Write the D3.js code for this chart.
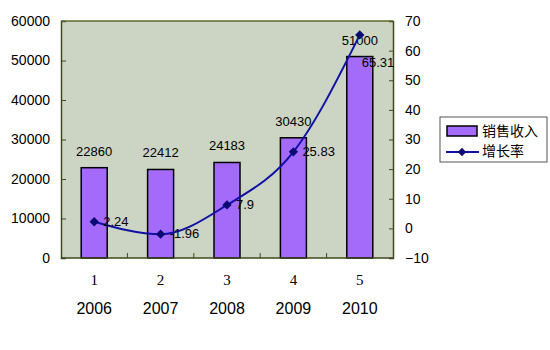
<!DOCTYPE html>
<html><head><meta charset="utf-8">
<script src="https://cdn.jsdelivr.net/npm/d3@7"></script>
<style>body{margin:0;background:#fff}</style>
</head><body>
<svg id="c" width="550" height="350"></svg>
<script>
const categories = ["1","2","3","4","5"];
const years = ["2006","2007","2008","2009","2010"];
const sales = [22860, 22412, 24183, 30430, 51000];
const growth = [2.24, -1.96, 7.9, 25.83, 65.31];
const leftTicks = [0,10000,20000,30000,40000,50000,60000];
const rightTicks = [-10,0,10,20,30,40,50,60,70];
const seriesNames = ["销售收入","增长率"];

const svg = d3.select("#c");
const L = 61, R = 393, T = 21, B = 258;
const xb = d3.scaleBand().domain(categories).range([L, R]);
const yL = d3.scaleLinear().domain([0, 60000]).range([B, T]);
const yR = d3.scaleLinear().domain([-10, 70]).range([B, T]);
const cx = i => xb(categories[i]) + xb.bandwidth()/2;

svg.append("rect").attr("x", L).attr("y", T).attr("width", R - L).attr("height", B - T)
  .attr("fill", "#ccd4c3");

// bars
svg.selectAll(".bar").data(sales).enter().append("rect")
  .attr("x", (d,i) => cx(i) - 13)
  .attr("width", 26)
  .attr("y", d => yL(d)).attr("height", d => B - yL(d))
  .attr("fill", "#a46bfa").attr("stroke", "#000").attr("stroke-width", 1.5);

// axes
const font = "'Liberation Sans', Arial, sans-serif";
const gl = svg.append("g").attr("transform", `translate(${L},0)`)
  .call(d3.axisLeft(yL).tickValues(leftTicks).tickSize(-5).tickPadding(11).tickFormat(d3.format("d")));
const gr = svg.append("g").attr("transform", `translate(${R},0)`)
  .call(d3.axisRight(yR).tickValues(rightTicks).tickSize(-4).tickPadding(12).tickFormat(d3.format("d")));
[gl, gr].forEach(g => {
  g.selectAll("path").attr("stroke", "#3d4a1c").attr("stroke-width", 1.5);
  g.selectAll("line").attr("stroke", "#3d4a1c");
  g.selectAll("text").attr("font-family", font).attr("font-size", 14).attr("fill", "#000");
});
svg.append("line").attr("x1", L).attr("x2", R).attr("y1", B).attr("y2", B).attr("stroke", "#3d4a1c").attr("stroke-width", 1.5);
svg.append("line").attr("x1", L).attr("x2", R).attr("y1", T).attr("y2", T).attr("stroke", "#5b6b2c").attr("stroke-width", 1.5);
// inward ticks at category boundaries
svg.selectAll(".bt").data(categories.slice(1)).enter().append("line")
  .attr("x1", d => xb(d)).attr("x2", d => xb(d)).attr("y1", B).attr("y2", B - 5)
  .attr("stroke", "#3d4a1c");

// category labels
svg.selectAll(".cl").data(categories).enter().append("text")
  .attr("x", (d,i) => cx(i)).attr("y", 285)
  .attr("text-anchor", "middle").attr("font-family", "'Liberation Serif', 'Times New Roman', serif")
  .attr("font-size", 15).text(d => d);
svg.selectAll(".yl").data(years).enter().append("text")
  .attr("x", (d,i) => cx(i)).attr("y", 314)
  .attr("text-anchor", "middle").attr("font-family", font)
  .attr("font-size", 16).text(d => d);

// bar labels
svg.selectAll(".bl").data(sales).enter().append("text")
  .attr("x", (d,i) => cx(i))
  .attr("y", d => yL(d) - 12)
  .attr("text-anchor", "middle").attr("font-family", font).attr("font-size", 13)
  .text(d => d);

// line
const line = d3.line().x((d,i) => cx(i)).y(d => yR(d)).curve(d3.curveMonotoneX);
svg.append("path").datum(growth).attr("d", line).attr("fill", "none")
  .attr("stroke", "#1010a8").attr("stroke-width", 2);
svg.selectAll(".pt").data(growth).enter().append("path")
  .attr("transform", (d,i) => `translate(${cx(i)},${yR(d)})`)
  .attr("d", d3.symbol(d3.symbolDiamond2, 55)).attr("fill", "#0a0a70");
svg.selectAll(".gl").data(growth).enter().append("text")
  .attr("x", (d,i) => cx(i) + (i === 4 ? 2 : 9))
  .attr("y", (d,i) => yR(d) + (i === 4 ? 32 : 4))
  .attr("font-family", font).attr("font-size", 13)
  .text(d => d);

// legend
const lg = svg.append("g");
lg.append("rect").attr("x", 440).attr("y", 117).attr("width", 107).attr("height", 45)
  .attr("fill", "#fff").attr("stroke", "#555").attr("stroke-width", 1);
lg.append("rect").attr("x", 447).attr("y", 126).attr("width", 30).attr("height", 10)
  .attr("fill", "#a46bfa").attr("stroke", "#000").attr("stroke-width", 1.5);
lg.append("line").attr("x1", 446).attr("x2", 479).attr("y1", 152).attr("y2", 152)
  .attr("stroke", "#1010a8").attr("stroke-width", 2);
lg.append("path").attr("transform", "translate(462,152)").attr("d", d3.symbol(d3.symbolDiamond2, 45)).attr("fill", "#0a0a70");
lg.selectAll(".lt").data(seriesNames).enter().append("text")
  .attr("x", 482).attr("y", (d,i) => 136 + i*20)
  .attr("font-family", "'Noto Sans CJK SC', sans-serif").attr("font-size", 14)
  .text(d => d);
</script>
</body></html>
